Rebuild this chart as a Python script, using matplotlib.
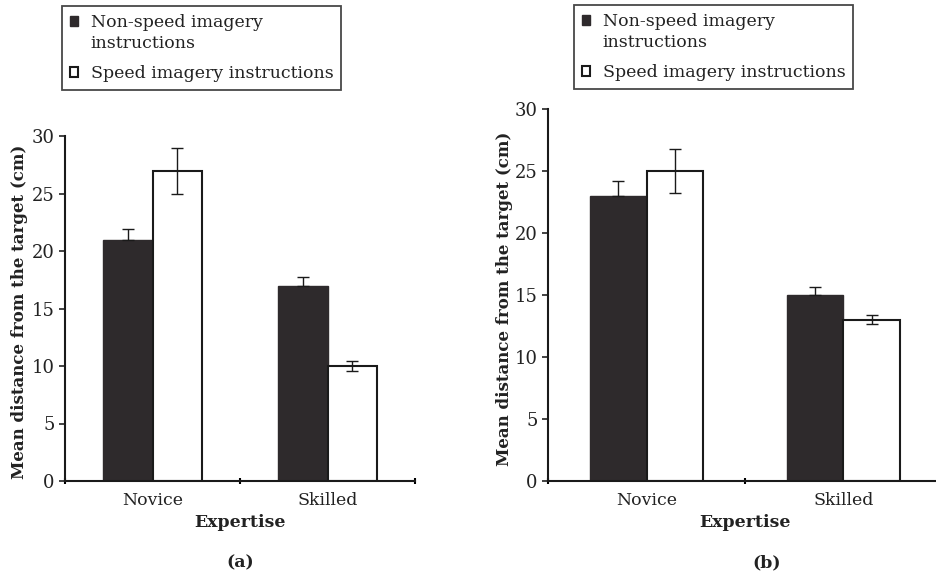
import matplotlib
matplotlib.use("Agg")
import matplotlib.pyplot as plt
from matplotlib.patches import Patch, Rectangle
from matplotlib.legend_handler import HandlerPatch
import numpy as np

# data
groups = ["Novice", "Skilled"]
series_names = ["Non-speed imagery\ninstructions", "Speed imagery instructions"]

a_nonspeed = [21, 17]
a_nonspeed_err = [0.9, 0.7]
a_speed = [27, 10]
a_speed_err = [2.0, 0.4]

b_nonspeed = [23, 15]
b_nonspeed_err = [1.2, 0.65]
b_speed = [25, 13]
b_speed_err = [1.8, 0.35]

yticks = [0, 5, 10, 15, 20, 25, 30]

DARK = "#2e2a2c"
plt.rcParams["font.family"] = ["DejaVu Serif"]
plt.rcParams["font.size"] = 12


def draw_panel(ax, nonspeed, nonspeed_err, speed, speed_err, ylab_x, xlab_y):
    x = np.arange(len(groups)) + 0.5
    w = 0.285
    ax.bar(x - w / 2, nonspeed, w, color=DARK, edgecolor=DARK, linewidth=1.0, zorder=2)
    ax.bar(x + w / 2, speed, w, color="white", edgecolor="#1a1a1a", linewidth=1.5, zorder=2)
    # the lower half of the dark bars' whiskers disappears into the fill
    ax.errorbar(x - w / 2, nonspeed, yerr=[np.zeros(len(nonspeed)), nonspeed_err],
                fmt="none", ecolor="#1a1a1a", elinewidth=1.0, capsize=4, capthick=1.0,
                zorder=3)
    ax.errorbar(x + w / 2, speed, yerr=speed_err, fmt="none", ecolor="#1a1a1a",
                elinewidth=1.0, capsize=4, capthick=1.0, zorder=3)

    ax.set_xlim(0, len(groups))
    ax.set_ylim(0, 30)
    ax.set_yticks(yticks)
    ax.set_xticks([0, 1, 2])
    ax.set_xticklabels([])
    ax.set_xticks(x, minor=True)
    ax.set_xticklabels(groups, minor=True)
    ax.tick_params(axis="x", which="major", length=4, width=1.5, direction="inout")
    ax.tick_params(axis="x", which="minor", length=0, pad=8, labelsize=12.5, colors="#222222")
    ax.tick_params(axis="y", length=4, width=1.2, labelsize=13, colors="#222222")

    for s in ["top", "right"]:
        ax.spines[s].set_visible(False)
    for s in ["left", "bottom"]:
        ax.spines[s].set_linewidth(1.5)
        ax.spines[s].set_color("#1a1a1a")

    ax.set_ylabel("Mean distance from the target (cm)", fontweight="bold", fontsize=12,
                  color="#222222")
    ax.yaxis.set_label_coords(ylab_x, 0.49)
    ax.set_xlabel("Expertise", fontweight="bold", fontsize=12.5, color="#222222")
    ax.xaxis.set_label_coords(0.5, xlab_y)


def top_line_square(legend, orig_handle, xdescent, ydescent, width, height, fontsize):
    # put the swatch next to the first line of a two-line label
    return Rectangle((-xdescent, -ydescent + 9), width, height)


fig = plt.figure(figsize=(9.37, 5.75), dpi=100)
ax_a = fig.add_axes([65 / 937, 94 / 575, 350 / 937, 345 / 575])
ax_b = fig.add_axes([548 / 937, 94 / 575, 394 / 937, 372 / 575])

draw_panel(ax_a, a_nonspeed, a_nonspeed_err, a_speed, a_speed_err, -0.106, -0.097)
draw_panel(ax_b, b_nonspeed, b_nonspeed_err, b_speed, b_speed_err, -0.09, -0.089)

for lx, ly in [(62 / 937, 1 - 6 / 575), (574 / 937, 1 - 5 / 575)]:
    handles = [Patch(facecolor=DARK, edgecolor=DARK),
               Patch(facecolor="white", edgecolor="#1a1a1a", linewidth=1.5)]
    leg = fig.legend(handles, series_names, loc="upper left", bbox_to_anchor=(lx, ly),
                     bbox_transform=fig.transFigure, borderaxespad=0, fancybox=False,
                     edgecolor="#1a1a1a", fontsize=12.5, handlelength=0.5,
                     handleheight=0.5, handletextpad=0.7, labelspacing=0.75,
                     borderpad=0.45,
                     handler_map={handles[0]: HandlerPatch(patch_func=top_line_square)})
    leg.get_frame().set_linewidth(1.3)
    for t in leg.get_texts():
        t.set_color("#222222")
        t.set_linespacing(1.3)

fig.text(240 / 937, 1 - 563 / 575, "(a)", ha="center", va="center", fontweight="bold",
         fontsize=12.5, color="#222222")
fig.text(767 / 937, 1 - 563 / 575, "(b)", ha="center", va="center", fontweight="bold",
         fontsize=12.5, color="#222222")

fig.savefig("out.png", dpi=100)
